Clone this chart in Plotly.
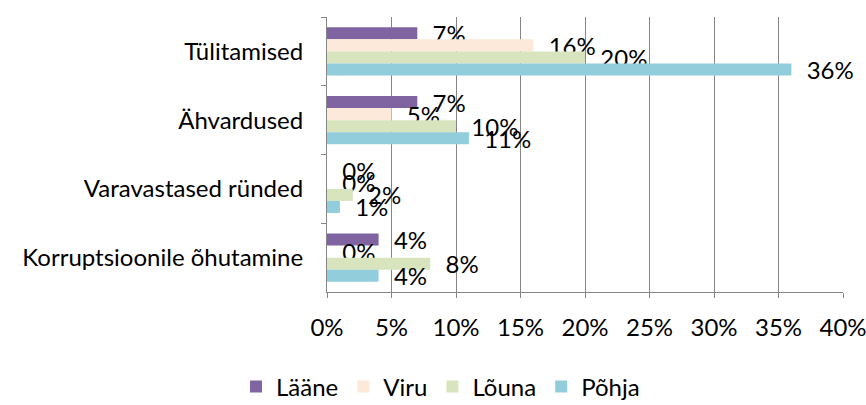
import plotly.graph_objects as go

categories = ["Tülitamised", "Ähvardused", "Varavastased ründed", "Korruptsioonile õhutamine"]
series_names = ["Lääne", "Viru", "Lõuna", "Põhja"]
laane = [7, 7, 0, 4]
viru = [16, 5, 0, 0]
louna = [20, 10, 2, 8]
pohja = [36, 11, 1, 4]
tick_vals = [0, 5, 10, 15, 20, 25, 30, 35, 40]
tick_text = ["0%", "5%", "10%", "15%", "20%", "25%", "30%", "35%", "40%"]

colors = ["#8064A2", "#FDE9D9", "#D7E4BD", "#92CDDC"]
values = [laane, viru, louna, pohja]

FONT = "Lato"
FS = 24
fig = go.Figure()
for name, vals, col in zip(series_names, values, colors):
    fig.add_trace(go.Bar(
        y=categories, x=vals, name=name, orientation="h",
        marker=dict(color=col, line=dict(width=0)),
        text=["\u00a0\u00a0%d%%" % v for v in vals],
        textposition="outside", constraintext="none", cliponaxis=False,
        textfont=dict(family=FONT, size=FS, color="#000000"),
        hoverinfo="skip",
    ))

fig.update_layout(
    width=866, height=405,
    margin=dict(l=327, r=23, t=17, b=113, autoexpand=False),
    paper_bgcolor="white", plot_bgcolor="white",
    barmode="group", bargap=0.3, bargroupgap=0,
    font=dict(family=FONT, size=FS, color="#000000"),
    showlegend=True,
    legend=dict(orientation="h", x=0.22, xanchor="center", y=-0.345, yanchor="middle",
                font=dict(family=FONT, size=FS, color="#000000"),
                itemclick=False, traceorder="normal"),
    xaxis=dict(range=[0, 40], tickvals=tick_vals, ticktext=tick_text,
               showgrid=True, gridcolor="#868686", gridwidth=1,
               showline=True, linecolor="#868686", linewidth=1,
               ticks="outside", ticklen=5, tickcolor="#868686",
               ticklabelstandoff=9, zeroline=False, automargin=False,
               ticklabeloverflow="allow",
               tickfont=dict(family=FONT, size=FS, color="#000000")),
    yaxis=dict(autorange="reversed", type="category",
               showgrid=False, showline=True, linecolor="#868686", linewidth=1,
               ticks="outside", ticklen=5, tickcolor="#868686", tickson="boundaries",
               ticklabelstandoff=18, automargin=False,
               tickfont=dict(family=FONT, size=FS, color="#000000")),
)

fig.write_html("out.html", config={"displayModeBar": False},
               post_script="document.body.style.margin='0';document.body.style.overflow='hidden';")
